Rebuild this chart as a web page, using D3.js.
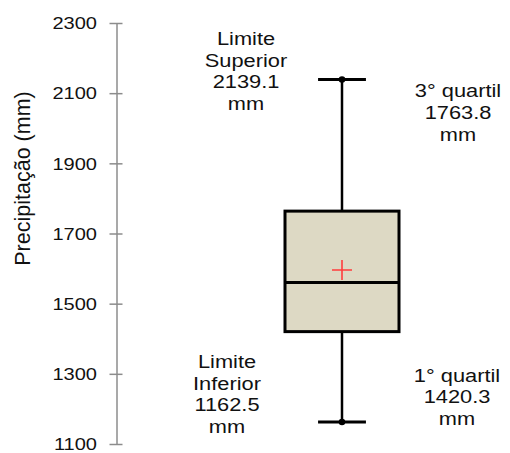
<!DOCTYPE html>
<html>
<head>
<meta charset="utf-8">
<script src="https://cdn.jsdelivr.net/npm/d3@7"></script>
<style>
  body { margin: 0; background: #fff; }
  svg { display: block; font-family: 'Liberation Sans', Arial, sans-serif; }
</style>
</head>
<body>
<div id="chart"></div>
<script>
// values
const categories = ['Precipitação'];
const minValues = [1162.5];
const q1Values = [1420.3];
const medianValues = [1560];
const q3Values = [1763.8];
const maxValues = [2139.1];
const meanValues = [1596];
const tickValues = [1100, 1300, 1500, 1700, 1900, 2100, 2300];
const upperLabel = ['Limite', 'Superior', '2139.1', 'mm'];
const q3Label = ['3° quartil', '1763.8', 'mm'];
const q1Label = ['1° quartil', '1420.3', 'mm'];
const lowerLabel = ['Limite', 'Inferior', '1162.5', 'mm'];

const width = 510;
const height = 453;
const stretch = 1.18; // text in the source looks wider than tall
const lineStep = 21.7;

const data = categories.map((c, i) => ({
  name: c,
  min: minValues[i],
  q1: q1Values[i],
  median: medianValues[i],
  q3: q3Values[i],
  max: maxValues[i],
  mean: meanValues[i],
}));

const svg = d3.select('#chart').append('svg')
    .attr('width', width)
    .attr('height', height);

const yScale = d3.scaleLinear()
    .domain([1100, 2300])
    .range([444, 23]);

const xScale = d3.scaleBand()
    .domain(categories)
    .range([228, 456])
    .paddingInner(0.5)
    .paddingOuter(0.25);

const axisX = 116.5;

const yAxis = d3.axisLeft(yScale)
    .tickValues(tickValues)
    .tickFormat(d3.format('d'))
    .tickSizeOuter(0);

const axisG = svg.append('g')
    .attr('class', 'y axis')
    .attr('transform', `translate(${axisX}, 0)`)
    .call(yAxis);

axisG.select('.domain')
    .attr('stroke', '#8c8c8c')
    .attr('stroke-width', 1.5);

// ticks cross the axis line
axisG.selectAll('.tick line')
    .attr('x1', -7)
    .attr('x2', 6)
    .attr('stroke', '#8c8c8c')
    .attr('stroke-width', 1.5);

axisG.selectAll('.tick text')
    .attr('x', -19.5 / stretch)
    .attr('dy', '0.34em')
    .attr('transform', `scale(${stretch},1)`)
    .attr('font-size', '17px')
    .attr('fill', '#111')
    .attr('font-family', "'Liberation Sans', Arial, sans-serif");

svg.append('text')
    .attr('transform', `translate(30, 178.5) rotate(-90)`)
    .attr('text-anchor', 'middle')
    .attr('font-size', '21.5px')
    .attr('fill', '#111')
    .text('Precipitação (mm)');

const box = svg.append('g').attr('class', 'box');

data.forEach((d) => {
  const x0 = xScale(d.name);
  const bw = xScale.bandwidth();
  const cx = x0 + bw / 2;
  const capW = bw * 0.42;

  // whiskers
  box.append('line')
    .attr('x1', cx).attr('x2', cx)
    .attr('y1', yScale(d.max)).attr('y2', yScale(d.q3))
    .attr('stroke', '#000').attr('stroke-width', 2.5);
  box.append('line')
    .attr('x1', cx).attr('x2', cx)
    .attr('y1', yScale(d.q1)).attr('y2', yScale(d.min))
    .attr('stroke', '#000').attr('stroke-width', 2.5);

  [d.max, d.min].forEach((v) => {
    box.append('line')
      .attr('x1', cx - capW / 2).attr('x2', cx + capW / 2)
      .attr('y1', yScale(v)).attr('y2', yScale(v))
      .attr('stroke', '#000').attr('stroke-width', 3);
    box.append('circle')
      .attr('cx', cx).attr('cy', yScale(v))
      .attr('r', 3.3)
      .attr('fill', '#000');
  });

  box.append('rect')
    .attr('x', x0)
    .attr('y', yScale(d.q3))
    .attr('width', bw)
    .attr('height', yScale(d.q1) - yScale(d.q3))
    .attr('fill', '#ddd9c4')
    .attr('stroke', '#000')
    .attr('stroke-width', 3);

  box.append('line')
    .attr('x1', x0).attr('x2', x0 + bw)
    .attr('y1', yScale(d.median)).attr('y2', yScale(d.median))
    .attr('stroke', '#000').attr('stroke-width', 3);

  // mean marker
  const my = yScale(d.mean);
  box.append('path')
    .attr('d', `M${cx - 10},${my}H${cx + 10}M${cx},${my - 10}V${my + 10}`)
    .attr('stroke', '#ff3c3c')
    .attr('stroke-width', 1.6)
    .attr('fill', 'none');

  // annotation blocks
  const addLabel = (lines, x, y) => {
    const t = svg.append('text')
      .attr('transform', `translate(${x}, ${y}) scale(${stretch},1)`)
      .attr('text-anchor', 'middle')
      .attr('font-size', '18.5px')
      .attr('fill', '#111');
    lines.forEach((l, i) => {
      t.append('tspan')
        .attr('x', 0)
        .attr('y', i * lineStep)
        .text(l);
    });
  };

  addLabel(upperLabel, cx - 96, yScale(d.max) - 34.5);
  addLabel(q3Label, cx + 116, yScale(d.q3) - 114);
  addLabel(q1Label, cx + 115, yScale(d.q1) + 50);
  addLabel(lowerLabel, cx - 115, yScale(d.min) - 54);
});
</script>
</body>
</html>
